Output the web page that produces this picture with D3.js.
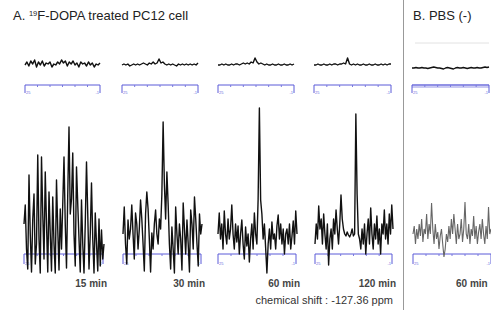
<!DOCTYPE html>
<meta charset="utf-8">
<script src="https://cdn.jsdelivr.net/npm/d3@7"></script>
<style>
body { margin: 0; background: #fff; }
svg { font-family: "Liberation Sans", Arial, sans-serif; }
.spec { fill: none; stroke: #111; stroke-width: 1.4; stroke-linejoin: round; }
.spec-b { fill: none; stroke: #666; stroke-width: 1.1; }
.brk { fill: none; stroke: #5a5ad8; stroke-width: 1; }
.lbl { font-size: 10px; font-weight: bold; fill: #444; }
</style>
<div id="fig"></div>
<script>

// time point labels
var times = ["15 min", "30 min", "60 min", "120 min", "60 min"];

// small upper spectra (wide window), intensity above baseline
var top1 = [0, 3, -1, 4, 1, 5, -2, 3, 0, 4, -1, 2, 1, 3, -2, 1, 0, 3, 1, 5, 2, 4, -1, 3, 1, 4, 0, 2, -2, 3, 1, 2, -1, 3, 0, 2, -2, 1, 0, 2];
var top2 = [0, 1, 0, 1, -1, 0, 1, 0, 1, 0, 1, 2, 1, 0, 2, 1, 3, 1, 2, 6, 2, 3, 1, 0, 1, 0, 1, 0, -1, 1, 0, 1, 0, 1, 0, 1, 0, 1, 0, 2];
var top3 = [0, 0, 1, 0, 1, 0, 0, 1, 0, 1, 1, 0, 1, 2, 1, 2, 1, 3, 2, 7, 3, 1, 2, 1, 0, 1, 0, 0, 1, 0, 0, 1, 0, 0, 1, 0, 0, 1, 0, 1];
var top4 = [0, 0, 1, 0, 0, 1, 0, 0, 1, 0, 1, 1, 0, 1, 1, 2, 1, 7, 1, 0, 1, 0, 1, 0, 0, 1, 0, 0, 1, 0, 0, 1, 0, 0, 1, 0, 1, 0, 1, 1];
var top5 = [0, 0, 0.5, 0, 0, 0.5, 0, 0, -0.5, 0, 0.5, 1, 0.5, 0, 0, -0.5, -1, 0, 0.5, 0, -0.5, -1, 0, 0.5, 0, 0, 0.5, 0, -0.5, 0, 0.5, 0, 0, 0.5, 0, 0, 0.5, 1, 0.5, 1];

// expanded lower spectra around -127.36 ppm
var low1 = [30, 49, 5, -15, 79, 20, -18, 35, 60, -10, 10, 99, 15, -19, 97, 40, -5, 82, 30, -18, 62, 20, -17, 57, 10, -19, 74, 25, -16, 45, 5, 50, 97, 30, -14, 60, 127, 40, 55, 101, 20, -12, 87, 50, 15, -18, 54, 10, -19, 30, 92, 40, -15, 20, 71, 15, -19, 41, 10, -17, 35, -12, 24, -5, 10];
var low2 = [20, 47, 10, -10, 34, 15, 25, 49, 20, -5, 41, 30, 5, 25, 54, 35, 10, -17, 40, 62, 45, 15, -18, 21, 5, 30, 44, 20, 10, 35, 25, 60, 132, 70, 35, 82, 50, 10, -15, 27, 5, -19, 47, 20, 0, 30, 15, -16, 51, 25, 0, 34, 10, -18, 44, 30, 5, 57, 35, 10, -12, 40, 20, 30];
var low3 = [20, 41, 15, 30, 5, 43, 20, 10, 35, 15, 25, 49, 20, 5, 30, 12, 28, 0, 20, 34, 10, -5, 27, 8, 20, -8, 15, 30, 5, 41, 20, 10, 55, 146, 54, 40, 15, 30, 6, -19, 10, 25, 5, 32, 15, 20, 5, 28, 39, 15, 30, 10, 25, 0, 20, 25, 10, 30, 5, 18, 33, 10, 43, 20];
var low4 = [10, 30, 15, 48, 25, 35, 10, 40, 20, 5, 30, -11, 15, 25, 5, 35, 20, 44, 25, 10, 30, 59, 35, 25, 20, 18, 22, 19, 17, 20, 25, 18, 20, 140, 60, 20, 15, 5, 25, 10, 30, 0, 20, 35, 10, 46, 20, 5, 30, 15, 38, 10, 25, 0, 30, 20, 44, 15, 30, 10, 40, 20, 49, 25];
var low5 = [20, 28, 10, 25, 15, 30, 18, 35, 12, 25, 20, 40, 15, 30, 20, 51, 25, 10, 30, 15, 22, 5, 18, 25, 10, -3, 5, 20, 12, 28, 15, 35, 20, 40, 25, 10, 30, 15, 20, 35, 12, 25, 52, 20, 15, 30, 10, 25, 18, 38, 15, 28, 10, 22, 30, 15, 35, 20, 10, 28, 15, 47, 20, 25];

var tops = [top1, top2, top3, top4, top5];
var lows = [low1, low2, low3, low4, low5];

var W = 491, H = 310;
var svg = d3.select("#fig").append("svg").attr("width", W).attr("height", H);

// panel columns
var cols = [[25, 100], [122, 198], [218, 294], [314, 391], [412, 489]];
var lowCols = [[24, 104], [123, 202], [218, 297], [315, 393], [413, 491]];

var yTop = d3.scaleLinear().domain([0, 10]).range([65, 55]);
var yLow = d3.scaleLinear().domain([0, 150]).range([254, 104]);

// separator between A and B
svg.append("line").attr("x1", 403.5).attr("x2", 403.5).attr("y1", 0).attr("y2", H)
   .attr("stroke", "#999").attr("stroke-width", 1);

// titles
var tA = svg.append("text").attr("x", 13).attr("y", 20).attr("font-size", 13).attr("fill", "#222");
tA.append("tspan").text("A. ");
tA.append("tspan").attr("font-size", 7.5).attr("dy", -4).text("19");
tA.append("tspan").attr("dy", 4).text("F-DOPA treated PC12 cell");
svg.append("text").attr("x", 413).attr("y", 20).attr("font-size", 13).attr("fill", "#222").text("B. PBS (-)");

function bracket(g, x0, x1, y, h, fill) {
  if (fill) {
    g.append("rect").attr("x", x0).attr("y", y - 1).attr("width", x1 - x0).attr("height", 4)
     .attr("fill", "#c9c9f2");
  }
  g.append("path").attr("class", "brk")
   .attr("d", "M" + x0 + "," + (y + h) + "V" + y + "H" + x1 + "V" + (y + h));
  var t = d3.scaleLinear().domain([0, 6]).range([x0, x1]);
  g.selectAll(".tk").data(d3.range(1, 6)).enter().append("line")
   .attr("x1", function(d) { return t(d); }).attr("x2", function(d) { return t(d); })
   .attr("y1", y).attr("y2", y + 2).attr("stroke", "#7a7ae0").attr("stroke-width", 1);
  g.append("text").attr("x", x0 + 1).attr("y", y + h + 1).attr("font-size", 4).attr("fill", "#6a6ae0").text("25");
  g.append("text").attr("x", x1 - 1).attr("y", y + h + 1).attr("font-size", 4).attr("fill", "#6a6ae0")
   .attr("text-anchor", "end").text("-1");
}

tops.forEach(function(d, k) {
  var g = svg.append("g");
  var x = d3.scaleLinear().domain([0, d.length - 1]).range(cols[k]);
  var y0 = k == 4 ? 3 : 0;
  var line = d3.line().x(function(v, i) { return x(i); }).y(function(v) { return yTop(v) + y0; });
  if (k == 4) {
    g.append("line").attr("x1", cols[k][0] + 3).attr("x2", cols[k][1]).attr("y1", 43).attr("y2", 43)
     .attr("stroke", "#e2e2e2");
  }
  g.append("path").datum(d).attr("class", "spec").attr("stroke-width", 1.1).attr("d", line);
  bracket(g, cols[k][0], cols[k][1], 85, 8, k == 4);
});

lows.forEach(function(d, k) {
  var g = svg.append("g");
  var x = d3.scaleLinear().domain([0, d.length - 1]).range(lowCols[k]);
  var line = d3.line().x(function(v, i) { return x(i); }).y(function(v) { return yLow(v); });
  bracket(g, lowCols[k][0], lowCols[k][1] - (k == 4 ? 0 : 1), yLow(0), 10, false);
  g.append("path").datum(d).attr("class", k == 4 ? "spec-b" : "spec").attr("d", line);
  var rx = k == 4 ? 456 : lowCols[k][1] + 3;
  g.append("text").attr("class", "lbl").attr("x", rx).attr("y", 287)
   .attr("text-anchor", k == 4 ? "start" : "end").text(times[k]);
});

svg.append("text").attr("class", "lbl").attr("x", 393).attr("y", 304).attr("text-anchor", "end")
   .style("font-size", "11px").style("font-weight", "normal").style("fill", "#333")
   .text("chemical  shift : -127.36 ppm");
</script>
